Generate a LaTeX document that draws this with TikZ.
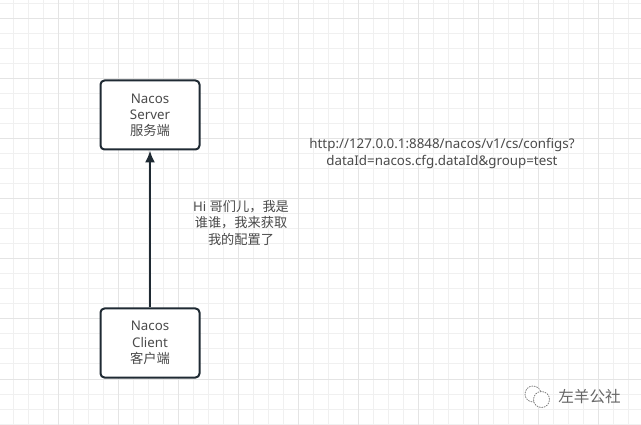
\documentclass[tikz,border=0pt]{standalone}
\usepackage{fontspec}
\setmainfont{Noto Sans}
\newfontfamily\cjk{Noto Sans CJK SC}
\usetikzlibrary{arrows.meta}
\definecolor{inkbox}{HTML}{1F2A33}
\definecolor{txt}{HTML}{4A4A4A}
\definecolor{gridminor}{HTML}{F0F0F0}
\definecolor{gridmajor}{HTML}{E4E4E4}
\tikzset{
  box/.style={draw=inkbox,line width=2pt,rounded corners=4pt,fill=white,minimum width=99pt,minimum height=69pt,inner sep=0pt,align=center,text=txt,font=\fontsize{13.3}{16.2}\selectfont,outer sep=1pt},
  caption/.style={align=center,text=txt,inner sep=0pt},
  link/.style={draw=inkbox,line width=2pt,-{Latex[length=12pt,width=10pt]}},
  logoring/.style={draw=gray!90!black,line width=.7pt,dash pattern=on 1.5pt off 1pt,fill=white}
}
\begin{document}
\begin{tikzpicture}[x=1pt,y=-1pt]
\useasboundingbox (0,0) rectangle (641,425);
\fill[white] (0,0) rectangle (641,425);
\foreach \x in {13.5,28.5,...,640}{\draw[gridminor,line width=1pt] (\x,0) -- (\x,425);}
\foreach \y in {4,19,...,425}{\draw[gridminor,line width=1pt] (0,\y) -- (641,\y);}
\foreach \x in {58.5,118.5,...,640}{\draw[gridmajor,line width=1pt] (\x,0) -- (\x,425);}
\foreach \y in {19,79,...,425}{\draw[gridmajor,line width=1pt] (0,\y) -- (641,\y);}
\node[box] (server) at (150,115) {Nacos\\Server\\{\cjk 服务端}};
\node[box] (client) at (150,343) {Nacos\\Client\\{\cjk 客户端}};
\draw[link] (client) -- (server);
\node[caption,font=\fontsize{13.2}{16.2}\selectfont] (hi) at (241,223) {Hi {\cjk 哥们儿，我是}\\{\cjk 谁谁，我来获取}\\{\cjk 我的配置了}};
\node[caption,font=\fontsize{13.35}{16.5}\selectfont] (url) at (442,153.5) {http://127.0.0.1:8848/nacos/v1/cs/configs?\\dataId=nacos.cfg.dataId\&group=test};
\draw[logoring] (533,394) circle (8pt);
\draw[logoring] (541.5,399.5) circle (8pt);
\node[caption,font=\fontsize{15.6}{16}\cjk\selectfont,text=gray!80!black] (brand) at (589.5,396.5) {左羊公社};
\end{tikzpicture}
\end{document}
